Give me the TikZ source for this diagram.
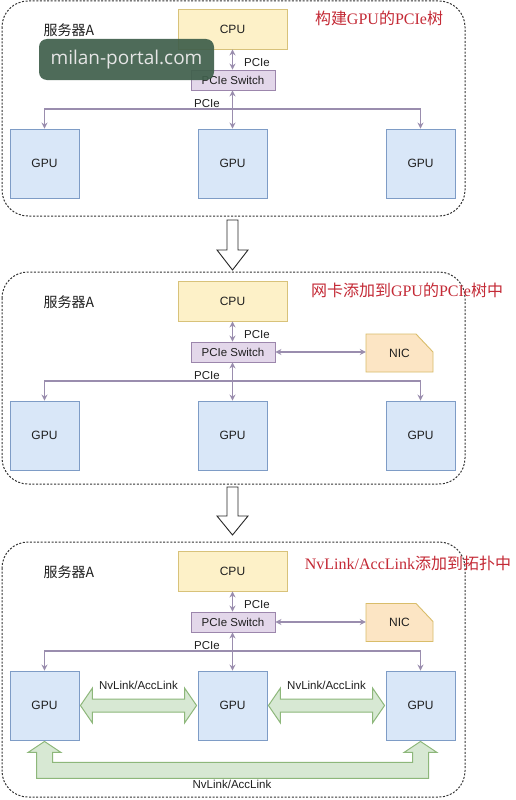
\documentclass[tikz,border=0pt]{standalone}
\usepackage{fontspec}
\setmainfont{Liberation Sans}
\newfontfamily\cjk{Noto Sans CJK SC}
\newfontfamily\serifl{Liberation Serif}
\newfontfamily\wmfont{Open Sans}
\usetikzlibrary{arrows.meta,calc}
\definecolor{cpuF}{HTML}{FDF1C8}
\definecolor{cpuD}{HTML}{D8C27A}
\definecolor{swF}{HTML}{E3D7EA}
\definecolor{swD}{HTML}{9C86AC}
\definecolor{gpuF}{HTML}{D9E7F8}
\definecolor{gpuD}{HTML}{7E9CC6}
\definecolor{nicF}{HTML}{FCE5C4}
\definecolor{nicD}{HTML}{D9BD6A}
\definecolor{connC}{HTML}{9A8DAE}
\definecolor{fatF}{HTML}{D7E8D3}
\definecolor{fatD}{HTML}{8DB77A}
\definecolor{titleC}{HTML}{C42A36}
\definecolor{wmF}{HTML}{3F5F4B}
\tikzset{
  box/.style={draw, line width=0.9pt, inner sep=0pt, text=black!88, font=\fontsize{12}{14}\selectfont},
  cpubox/.style={box, fill=cpuF, draw=cpuD, minimum width=109pt, minimum height=40pt},
  swbox/.style={box, fill=swF, draw=swD, minimum width=84pt, minimum height=20pt, font=\fontsize{11.5}{13}\selectfont},
  gpubox/.style={box, fill=gpuF, draw=gpuD, minimum size=69pt},
  nicnode/.style={inner sep=0pt, text=black!88, font=\fontsize{12}{14}\selectfont, minimum width=67pt, minimum height=38pt},
  nicshape/.style={fill=nicF, draw=nicD, line width=0.9pt},
  conn/.style={draw=connC, line width=1.1pt},
  lbl/.style={inner sep=0pt, text=black!88, font=\fontsize{11.5}{13}\selectfont},
  srv/.style={inner sep=0pt, text=black!88, font=\cjk\fontsize{14}{16}\selectfont},
  ttl/.style={inner sep=0pt, text=titleC, font=\serifl\fontsize{16}{18}\selectfont},
  panel/.style={draw=black!80, line width=1pt, dash pattern=on 2pt off 1.6pt, rounded corners=26pt},
  fat/.style={fill=fatF, draw=fatD, line width=1pt, line join=miter},
  blockdown/.style={fill=white, draw=black!85, line width=0.9pt, line join=miter},
  wm/.style={fill=wmF, fill opacity=0.92, text opacity=1, text=white!90!black, rounded corners=8pt, minimum width=175pt, minimum height=41pt, inner sep=0pt, font=\wmfont\fontsize{19}{22}\selectfont}
}
\newcommand\mypanelcore{%
  \node[cpubox] (cpu) at (232.5,29) {CPU};
  \node[swbox] (sw) at (233,80) {PCIe Switch};
  \node[gpubox] (g1) at (44.5,163.5) {GPU};
  \node[gpubox] (g2) at (232.5,163.5) {GPU};
  \node[gpubox] (g3) at (420.5,163.5) {GPU};
  \coordinate (bus) at (232.5,109);
  \draw[conn,<->] (cpu.south) -- (cpu.south |- sw.north);
  \draw[conn,<->] (sw.south -| g2.north) -- (g2.north);
  \draw[conn,->] (bus) -| (g1.north);
  \draw[conn,->] (bus) -| (g3.north);
  \node[lbl] (l1) at (257,63) {PCIe};
  \node[lbl] (l2) at (207,104) {PCIe};
  \node[srv] (srv) at (69,30) {服务器A};
}
\newcommand\fatarrow[2]{%
  \draw[fat] (#1) -- ($(#1)+(12,-17.5)$) -- ($(#1)+(12,-6.5)$) -- ($(#2)+(-12,-6.5)$)
    -- ($(#2)+(-12,-17.5)$) -- (#2) -- ($(#2)+(-12,17.5)$) -- ($(#2)+(-12,6.5)$)
    -- ($(#1)+(12,6.5)$) -- ($(#1)+(12,17.5)$) -- cycle;}
\begin{document}
\begin{tikzpicture}[x=1pt, y=-1pt, >={Stealth[length=6pt,width=6pt]}]
  \fill[white] (0,0) rectangle (516,800);
  \useasboundingbox (0,0) rectangle (516,800);
  % panels
  \draw[panel] (2,1) rectangle (465,216);
  \draw[panel] (2,272) rectangle (465,484);
  \draw[panel] (2,542) rectangle (465,797);
  % panel 1
  \begin{scope}[name prefix=a-]
    \mypanelcore
  \end{scope}
  \node[ttl] (t1) at (379,18) {{\cjk 构建}GPU{\cjk 的}PCIe{\cjk 树}};
  % panel 2
  \begin{scope}[yshift=-272pt, name prefix=b-]
    \mypanelcore
  \end{scope}
  \node[ttl] (t2) at (407,290) {{\cjk 网卡添加到}GPU{\cjk 的}PCIe{\cjk 树中}};
  \coordinate (bnicc) at (399.5,353);
  \draw[nicshape] ($(bnicc)+(-33.5,19)$) -- ($(bnicc)+(-33.5,-19)$) -- ($(bnicc)+(16.5,-19)$)
     -- ($(bnicc)+(33.5,-1)$) -- ($(bnicc)+(33.5,19)$) -- cycle;
  \node[nicnode] (b-nic) at (bnicc) {NIC};
  \draw[conn,<->] (b-sw.east) -- (b-sw.east -| b-nic.west);
  % panel 3
  \begin{scope}[yshift=-542pt, name prefix=c-]
    \mypanelcore
  \end{scope}
  \node[ttl] (t3) at (408,563) {NvLink/AccLink{\cjk 添加到拓扑中}};
  \coordinate (cnicc) at (399.5,622.5);
  \draw[nicshape] ($(cnicc)+(-33.5,19)$) -- ($(cnicc)+(-33.5,-19)$) -- ($(cnicc)+(16.5,-19)$)
     -- ($(cnicc)+(33.5,-1)$) -- ($(cnicc)+(33.5,19)$) -- cycle;
  \node[nicnode] (c-nic) at (cnicc) {NIC};
  \draw[conn,<->] (c-sw.east) -- (c-sw.east -| c-nic.west);
  % NvLink fat arrows
  \coordinate (h1a) at ([xshift=1pt]c-g1.east);
  \coordinate (h1b) at ([xshift=-1pt]c-g2.west);
  \coordinate (h2a) at ([xshift=1pt]c-g2.east);
  \coordinate (h2b) at ([xshift=-1pt]c-g3.west);
  \fatarrow{h1a}{h1b}
  \fatarrow{h2a}{h2b}
  \node[lbl] (n1) at ($(h1a)!0.5!(h1b)+(0,-20)$) {NvLink/AccLink};
  \node[lbl] (n2) at ($(h2a)!0.5!(h2b)+(0,-20)$) {NvLink/AccLink};
  \coordinate (ul) at ([yshift=-1pt]c-g1.south);
  \coordinate (ur) at ([yshift=-1pt]c-g3.south);
  \draw[fat] (ul) -- ($(ul)+(16.5,11)$) -- ($(ul)+(8,11)$) -- ($(ul)+(8,21)$) -- ($(ur)+(-8,21)$)
     -- ($(ur)+(-8,11)$) -- ($(ur)+(-16.5,11)$) -- (ur) -- ($(ur)+(16.5,11)$) -- ($(ur)+(8,11)$)
     -- ($(ur)+(8,37)$) -- ($(ul)+(-8,37)$) -- ($(ul)+(-8,11)$) -- ($(ul)+(-16.5,11)$) -- cycle;
  \node[lbl] (n3) at (232,784) {NvLink/AccLink};
  % block arrows between panels
  \draw[blockdown] (227,220) -- (238,220) -- (238,250) -- (248,250) -- (232.5,270) -- (217,250) -- (227,250) -- cycle;
  \draw[blockdown] (227,487) -- (238,487) -- (238,516) -- (248,516) -- (232.5,535) -- (217,516) -- (227,516) -- cycle;
  % watermark
  \node[wm] (wmk) at (126.5,59.5) {milan-portal.com};
\end{tikzpicture}
\end{document}
